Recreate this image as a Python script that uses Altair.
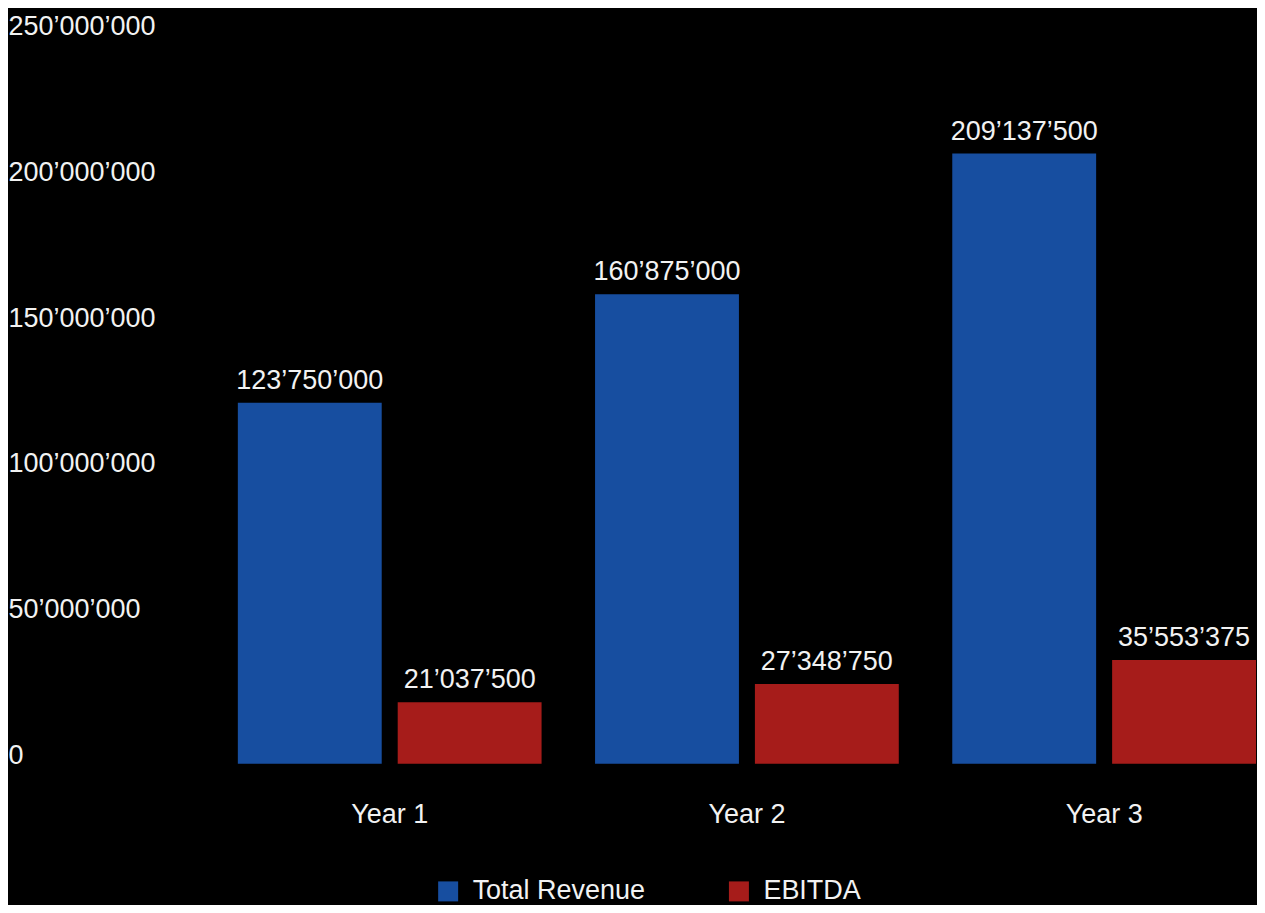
import altair as alt
import pandas as pd

years = ["Year 1", "Year 2", "Year 3"]
series = ["Total Revenue", "EBITDA"]
revenue = [123750000, 160875000, 209137500]
ebitda = [21037500, 27348750, 35553375]
colors = ["#174EA0", "#A61C1A"]

rows = []
for i, y in enumerate(years):
    rows.append({"year": y, "series": series[0], "value": revenue[i]})
    rows.append({"year": y, "series": series[1], "value": ebitda[i]})
df = pd.DataFrame(rows)
df["label"] = df["value"].map(lambda v: f"{v:,}".replace(",", "\u2019"))

FONT = "Liberation Sans"
FS = 27
TXT = "#f2f2f2"

x_enc = alt.X("year:N", sort=years, title=None,
              scale=alt.Scale(paddingInner=0.1497, paddingOuter=0.0322, align=1),
              axis=alt.Axis(labelAngle=0, domain=False, ticks=False, labelPadding=38,
                            labelFontSize=FS, labelColor=TXT, labelFont=FONT))
xo_enc = alt.XOffset("series:N", sort=series, scale=alt.Scale(paddingInner=0.1, paddingOuter=0))
y_enc = alt.Y("value:Q", title=None,
              scale=alt.Scale(domain=[0, 250000000], nice=False),
              axis=alt.Axis(values=[0, 50000000, 100000000, 150000000, 200000000, 250000000],
                            domain=False, ticks=False, grid=False,
                            labelAlign="left", labelPadding=207, labelOffset=-8,
                            labelBaseline="middle", labelFontSize=FS, labelColor=TXT,
                            labelFont=FONT,
                            labelExpr="replace(format(datum.value, ','), regexp(',', 'g'), '\u2019')"))

bars = alt.Chart(df).mark_bar().encode(
    x=x_enc, xOffset=xo_enc, y=y_enc,
    color=alt.Color("series:N", sort=series,
                    scale=alt.Scale(domain=series, range=colors),
                    legend=alt.Legend(title=None, orient="none", direction="horizontal",
                                      legendX=220, legendY=844,
                                      symbolType="square", symbolSize=400, symbolStrokeWidth=0,
                                      symbolOpacity=1, labelLimit=0, padding=0,
                                      labelFontSize=FS, labelColor=TXT, labelFont=FONT,
                                      labelOffset=11, columnPadding=80)),
)

labels = alt.Chart(df).mark_text(baseline="bottom", dy=-8, fontSize=FS, color=TXT, font=FONT).encode(
    x=alt.X("year:N", sort=years), xOffset=alt.XOffset("series:N", sort=series),
    y="value:Q", text="label:N",
)

chart = (bars + labels).properties(
    width=1042, height=730,
    background="black",
    padding={"left": 0, "top": 4, "right": 0, "bottom": 0},
).configure_view(strokeWidth=0)

chart.save("out.html", embed_options={"renderer": "svg", "actions": False})
